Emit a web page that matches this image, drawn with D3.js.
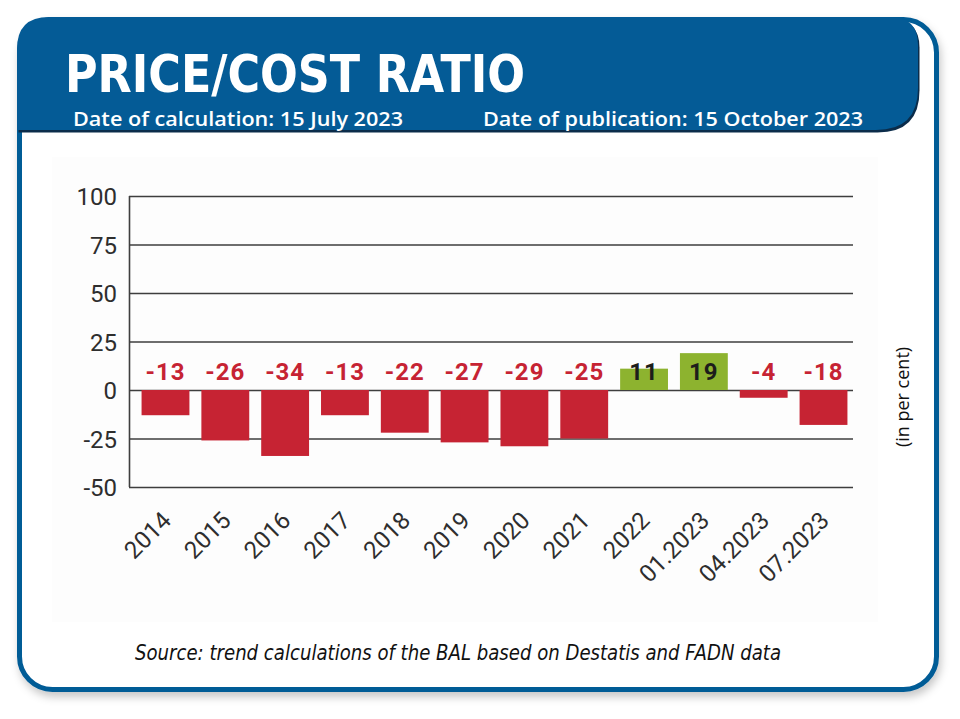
<!DOCTYPE html>
<html>
<head>
<meta charset="utf-8">
<script src="https://cdn.jsdelivr.net/npm/d3@7.9.0/dist/d3.min.js"></script>
<style>
  html, body { margin: 0; padding: 0; background: #fff; }
  svg { display: block; }
</style>
</head>
<body>
<svg id="chart" width="960" height="719"></svg>
<script>
const categories = ['2014', '2015', '2016', '2017', '2018', '2019', '2020', '2021', '2022', '01.2023', '04.2023', '07.2023'];
const ratioValues = [-13, -26, -34, -13, -22, -27, -29, -25, 11, 19, -4, -18];
const yTicks = [100, 75, 50, 25, 0, -25, -50];

const titleText = 'PRICE/COST RATIO';
const calcText = 'Date of calculation: 15 July 2023';
const pubText = 'Date of publication: 15 October 2023';
const unitText = '(in per cent)';
const sourceText = 'Source: trend calculations of the BAL based on Destatis and FADN data';

const blue = '#045b96';
const red = '#c62333';
const green = '#8db32f';
const narrow = '"Liberation Sans Narrow", "DejaVu Sans Condensed", Roboto, sans-serif';

const svg = d3.select('#chart');

// --- frame + header ---
const defs = svg.append('defs');
const shadow = defs.append('filter').attr('id', 'shadow')
  .attr('x', '-5%').attr('y', '-5%').attr('width', '110%').attr('height', '112%');
shadow.append('feDropShadow')
  .attr('dx', 2).attr('dy', 5).attr('stdDeviation', 4)
  .attr('flood-color', '#000').attr('flood-opacity', 0.22);

svg.append('rect')
  .attr('x', 19.5).attr('y', 19.5)
  .attr('width', 917).attr('height', 670)
  .attr('rx', 33).attr('ry', 33)
  .attr('fill', '#fff')
  .attr('stroke', blue)
  .attr('stroke-width', 5)
  .attr('filter', 'url(#shadow)');

const bandPath = 'M17,130 L17,49 Q17,17 49,17 L890,17 Q918,17 918,45 L918,88 Q918,130 876,130 Z';
svg.append('path')
  .attr('d', bandPath)
  .attr('transform', 'translate(1.5,2.5)')
  .attr('fill', '#0b2c4a');
svg.append('path')
  .attr('d', bandPath)
  .attr('fill', blue);

svg.append('text')
  .attr('x', 65).attr('y', 92)
  .attr('textLength', 460).attr('lengthAdjust', 'spacingAndGlyphs')
  .style('font-family', narrow)
  .style('font-weight', 'bold')
  .style('font-size', '51px')
  .attr('fill', '#fff')
  .text(titleText);

svg.append('text')
  .attr('x', 73).attr('y', 126)
  .attr('textLength', 330).attr('lengthAdjust', 'spacingAndGlyphs')
  .style('font-family', '"Open Sans", sans-serif')
  .style('font-weight', 600)
  .style('font-size', '20px')
  .attr('fill', '#fff')
  .text(calcText);

svg.append('text')
  .attr('x', 483).attr('y', 126)
  .attr('textLength', 380).attr('lengthAdjust', 'spacingAndGlyphs')
  .style('font-family', '"Open Sans", sans-serif')
  .style('font-weight', 600)
  .style('font-size', '20px')
  .attr('fill', '#fff')
  .text(pubText);

// faint chart panel
svg.append('rect')
  .attr('x', 52).attr('y', 157)
  .attr('width', 826).attr('height', 465)
  .attr('fill', '#fdfdfd');

// --- scales ---
const x = d3.scaleBand()
  .domain(categories)
  .range([129, 860])
  .paddingInner(0.2)
  .paddingOuter(0.21);

const y = d3.scaleLinear()
  .domain([-50, 100])
  .range([487, 196]);

const gridRight = 853;

// --- y axis + gridlines ---
const yAxis = svg.append('g')
  .attr('transform', 'translate(129,0)')
  .call(d3.axisLeft(y)
    .tickValues(yTicks)
    .tickSize(-(gridRight - 129))
    .tickPadding(12)
    .tickFormat(d => d));

yAxis.select('.domain').remove();
yAxis.selectAll('.tick line')
  .attr('stroke', '#3e3e3e')
  .attr('stroke-width', 1.6);
yAxis.selectAll('.tick text')
  .attr('dy', '0.37em')
  .attr('fill', '#2e2e2e')
  .style('font-family', 'Roboto, sans-serif')
  .style('font-size', '24px');

svg.append('line')
  .attr('x1', 129.5).attr('x2', 129.5)
  .attr('y1', y(100)).attr('y2', y(-50))
  .attr('stroke', '#3e3e3e')
  .attr('stroke-width', 1.6);

// --- bars ---
svg.selectAll('rect.bar')
  .data(ratioValues)
  .enter()
  .append('rect')
  .attr('class', 'bar')
  .attr('x', (d, i) => x(categories[i]))
  .attr('width', x.bandwidth())
  .attr('y', d => y(Math.max(0, d)))
  .attr('height', d => Math.abs(y(d) - y(0)))
  .attr('fill', d => d < 0 ? red : green);

svg.selectAll('text.val')
  .data(ratioValues)
  .enter()
  .append('text')
  .attr('class', 'val')
  .attr('x', (d, i) => x(categories[i]) + x.bandwidth() / 2)
  .attr('y', y(0) - 10)
  .attr('text-anchor', 'middle')
  .style('font-family', 'Roboto, sans-serif')
  .style('font-weight', 'bold')
  .style('font-size', '24px')
  .style('letter-spacing', '1px')
  .attr('fill', d => d < 0 ? red : '#1d1d1b')
  .text(d => d);

// --- x labels ---
svg.selectAll('text.cat')
  .data(categories)
  .enter()
  .append('text')
  .attr('class', 'cat')
  .attr('transform', d => `translate(${x(d) + x.bandwidth() / 2 + 7},522) rotate(-45)`)
  .attr('text-anchor', 'end')
  .attr('fill', '#2e2e2e')
  .style('font-family', 'Roboto, sans-serif')
  .style('font-size', '24px')
  .text(d => d);

// unit label
svg.append('text')
  .attr('transform', 'translate(909,397) rotate(-90)')
  .attr('text-anchor', 'middle')
  .attr('fill', '#111')
  .style('font-family', '"Open Sans", sans-serif')
  .style('font-size', '18px')
  .text(unitText);

// source
svg.append('text')
  .attr('x', 458).attr('y', 660)
  .attr('text-anchor', 'middle')
  .attr('textLength', 646).attr('lengthAdjust', 'spacingAndGlyphs')
  .attr('fill', '#111')
  .style('font-family', narrow)
  .style('font-style', 'italic')
  .style('font-size', '21px')
  .text(sourceText);
</script>
</body>
</html>
